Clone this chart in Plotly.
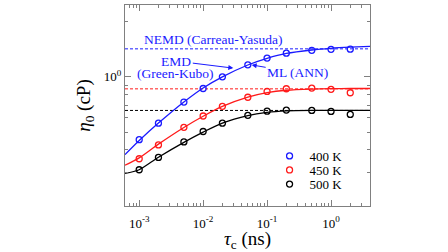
import plotly.graph_objects as go

# ---- data ----
tau = [1e-3, 2e-3, 5e-3, 1e-2, 2e-2, 5e-2, 0.1, 0.2, 0.5, 1.0, 2.0]
eta_400 = [0.455, 0.559, 0.729, 0.864, 1.000, 1.162, 1.265, 1.345, 1.394, 1.412, 1.415]
eta_450 = [0.358, 0.426, 0.531, 0.612, 0.691, 0.774, 0.833, 0.861, 0.868, 0.855, 0.819]
eta_500 = [0.312, 0.364, 0.442, 0.504, 0.559, 0.617, 0.650, 0.659, 0.656, 0.648, 0.624]

# fitted (ML / ANN) curves
tau_fit = [6e-4, 1e-3, 2e-3, 5e-3, 1e-2, 2e-2, 5e-2, 0.1, 0.2, 0.5, 1.0, 2.0, 4.07]
fit_400 = [0.377, 0.450, 0.560, 0.730, 0.870, 1.000, 1.160, 1.260, 1.340, 1.400, 1.430, 1.450, 1.465]
fit_450 = [0.330, 0.362, 0.430, 0.530, 0.610, 0.690, 0.775, 0.820, 0.845, 0.858, 0.862, 0.864, 0.864]
fit_500 = [0.298, 0.312, 0.365, 0.440, 0.500, 0.560, 0.615, 0.640, 0.652, 0.656, 0.656, 0.656, 0.656]

# NEMD (Carreau-Yasuda) reference values
nemd = [1.42, 0.86, 0.656]

labels = ["400 K", "450 K", "500 K"]
colors = ["#1a1aff", "#ff1a1a", "#000000"]

x_range = [6e-4, 4.07]

x_tickvals = [1e-3, 1e-2, 1e-1, 1e0]
x_ticktext = ["10<sup>-3</sup>", "10<sup>-2</sup>", "10<sup>-1</sup>", "10<sup>0</sup>"]
y_tickvals = [1.0]
y_ticktext = ["10<sup>0</sup>"]

x_minor = [m * 10.0 ** e for e in range(-4, 1) for m in range(2, 10)]
y_minor = [0.2, 0.3, 0.4, 0.5, 0.6, 0.7, 0.8, 0.9, 2.0]

FONT = "Liberation Serif"
fig = go.Figure()

for val, c in zip(nemd, colors):
    fig.add_trace(go.Scatter(x=x_range, y=[val, val], mode="lines",
                             line=dict(color=c, width=1, dash="3px,2px"),
                             showlegend=False, hoverinfo="skip"))

for fit, c in zip([fit_400, fit_450, fit_500], colors):
    fig.add_trace(go.Scatter(x=tau_fit, y=fit, mode="lines",
                             line=dict(color=c, width=1.3, shape="spline", smoothing=0.8),
                             showlegend=False))

legend_ids = ["legend", "legend2", "legend3"]
for y, c, name, lg in zip([eta_400, eta_450, eta_500], colors, labels, legend_ids):
    fig.add_trace(go.Scatter(x=tau, y=y, mode="markers", name=name, legend=lg,
                             marker=dict(symbol="circle-open", size=6, color=c,
                                         line=dict(width=1.3, color=c))))

axis_common = dict(
    showline=True, linecolor="#808080", linewidth=1.2, mirror="ticks",
    ticks="inside", ticklen=6, tickcolor="#808080", tickwidth=1,
    showgrid=False, zeroline=False,
    tickfont=dict(family=FONT, size=13, color="black"),
)

fig.update_xaxes(type="log", range=[-3.222, 0.6096],
                 tickmode="array", tickvals=x_tickvals, ticktext=x_ticktext,
                 ticklabelstandoff=5,
                 minor=dict(tickmode="array", tickvals=x_minor, ticks="inside",
                            ticklen=3, tickcolor="#808080", showgrid=False),
                 title=dict(text="<i>τ</i><sub>c</sub> (ns)",
                            font=dict(family=FONT, size=19, color="black"), standoff=4),
                 **axis_common)
fig.update_yaxes(type="log", range=[-0.7033, 0.391],
                 tickmode="array", tickvals=y_tickvals, ticktext=y_ticktext,
                 minor=dict(tickmode="array", tickvals=y_minor, ticks="inside",
                            ticklen=3, tickcolor="#808080", showgrid=False),
                 title=dict(text="<i>η</i><sub>0</sub> (cP)",
                            font=dict(family=FONT, size=19, color="black"), standoff=8),
                 **axis_common)

ann_font = dict(family=FONT, size=13.5, color="#1a1aff")
fig.add_annotation(xref="paper", yref="paper", showarrow=False, x=0.359, y=0.826,
                   xanchor="center", yanchor="middle",
                   text="NEMD (Carreau-Yasuda)", font=ann_font)
fig.add_annotation(xref="paper", yref="paper", showarrow=False, x=0.204, y=0.660,
                   xanchor="center", yanchor="middle",
                   text="(Green-Kubo)", font=ann_font)
# labels with arrows (arrow head at the curve / point)
fig.add_annotation(xref="paper", yref="paper", x=0.442, y=0.686, text="EMD",
                   font=ann_font, showarrow=True, ax=-57, ay=-7, arrowhead=2,
                   arrowsize=1, arrowwidth=1, arrowcolor="#1a1aff")
fig.add_annotation(xref="paper", yref="paper", x=0.517, y=0.702, text="ML (ANN)",
                   font=ann_font, showarrow=True, ax=46, ay=8, arrowhead=2,
                   arrowsize=1, arrowwidth=1, arrowcolor="#1a1aff")

legend_style = dict(xanchor="left", yanchor="middle", bgcolor="rgba(0,0,0,0)",
                    borderwidth=0, font=dict(family=FONT, size=13, color="black"))
fig.update_layout(
    width=448, height=252,
    margin=dict(l=125, r=78, t=4, b=41),
    plot_bgcolor="white", paper_bgcolor="white",
    font=dict(family=FONT, size=13, color="black"),
    legend=dict(x=0.59, y=0.249, **legend_style),
    legend2=dict(x=0.59, y=0.179, **legend_style),
    legend3=dict(x=0.59, y=0.109, **legend_style),
)

fig.write_html("out.html", config={"displayModeBar": False},
               post_script="document.body.style.margin='0';document.body.style.padding='0';")
